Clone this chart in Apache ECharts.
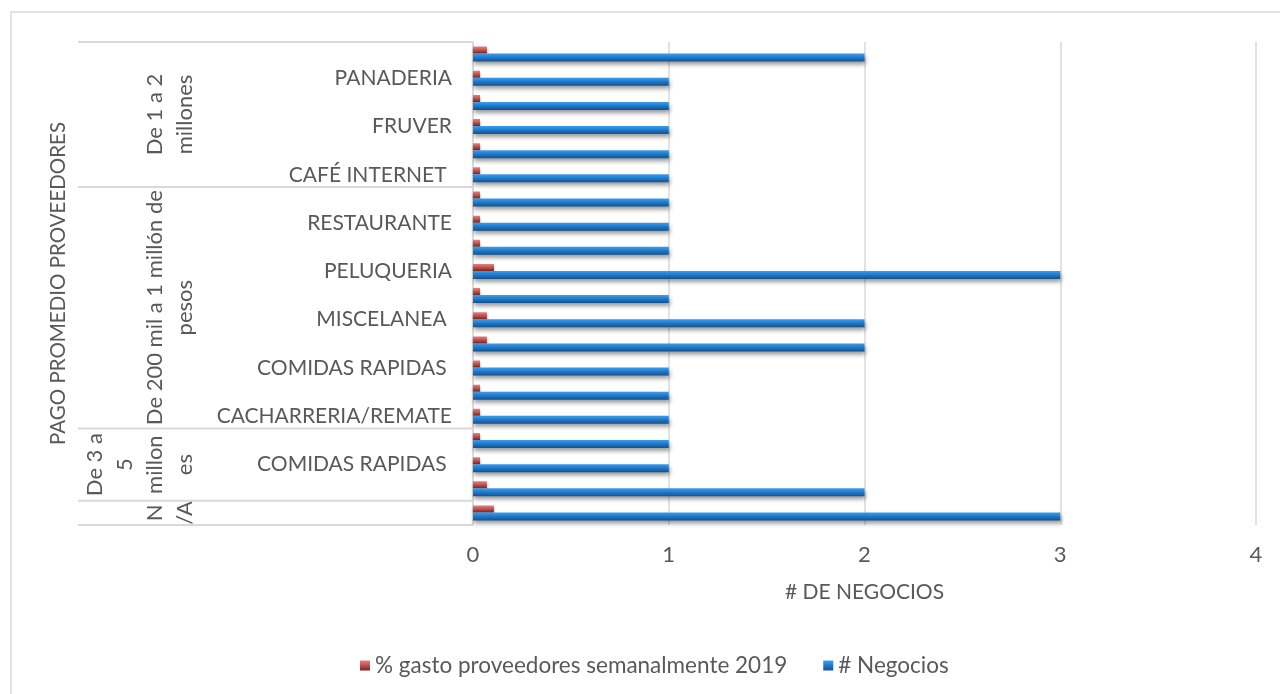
<!DOCTYPE html>
<html>
<head>
<meta charset="utf-8">
<script src="https://cdn.jsdelivr.net/npm/echarts@6/dist/echarts.min.js"></script>
<style>
  html, body { margin: 0; padding: 0; background: #fff; }
  #main { width: 1280px; height: 694px; }
</style>
</head>
<body>
<div id="main"></div>
<script>
// filas de arriba hacia abajo (Excel solo muestra una etiqueta de cada dos)
const rowLabels = ['', 'PANADERIA', '', 'FRUVER', '', 'CAFÉ INTERNET ', '', 'RESTAURANTE', '', 'PELUQUERIA',
  '', 'MISCELANEA ', '', 'COMIDAS RAPIDAS ', '', 'CACHARRERIA/REMATE', '', 'COMIDAS RAPIDAS ', '', ''];
const negocios = [2, 1, 1, 1, 1, 1, 1, 1, 1, 3, 1, 2, 2, 1, 1, 1, 1, 1, 2, 3];
const gastoProveedores = [0.071, 0.036, 0.036, 0.036, 0.036, 0.036, 0.036, 0.036, 0.036, 0.107,
  0.036, 0.071, 0.071, 0.036, 0.036, 0.036, 0.036, 0.036, 0.071, 0.107];
// segundo nivel del eje (rangos de pago) y cuantas filas abarca cada uno
const groupNames = ['De 1 a 2\nmillones', 'De 200 mil a 1 millón de\npesos', 'De 3 a\n5\nmillon\nes', 'N\n/A'];
const groupSizes = [6, 10, 3, 1];
const outerName = 'PAGO PROMEDIO PROVEEDORES';
const xTicks = [0, 1, 2, 3, 4];

const font = 'Lato';
const txt = '#595959';
const line = '#d9d9d9';

const chart = echarts.init(document.getElementById('main'));

const redFill = new echarts.graphic.LinearGradient(0, 0, 0, 1, [
  { offset: 0, color: '#e8817d' },
  { offset: 0.5, color: '#c0504d' },
  { offset: 1, color: '#7a2421' }
]);
const blueFill = new echarts.graphic.LinearGradient(0, 0, 0, 1, [
  { offset: 0, color: '#3f9ded' },
  { offset: 0.45, color: '#1f7ccf' },
  { offset: 1, color: '#14528c' }
]);

let option = {
  animation: false,
  backgroundColor: '#fff',
  textStyle: { fontFamily: font },
  grid: { left: 473, right: 24, top: 42, bottom: 169, containLabel: false, outerBoundsMode: 'none' },
  legend: {
    left: 355, top: 649,
    itemWidth: 10, itemHeight: 10, itemGap: 36,
    icon: 'rect',
    textStyle: { fontFamily: font, fontSize: 22.5, color: txt },
    data: ['% gasto proveedores semanalmente 2019', '# Negocios']
  },
  xAxis: {
    type: 'value',
    min: xTicks[0], max: xTicks[xTicks.length - 1], interval: 1,
    name: '# DE NEGOCIOS',
    nameLocation: 'middle',
    nameGap: 57,
    nameTextStyle: { fontFamily: font, fontSize: 21, color: txt },
    axisLine: { show: false },
    axisTick: { show: false },
    axisLabel: { fontFamily: font, fontSize: 22, color: txt, margin: 19 },
    splitLine: { show: true, lineStyle: { color: line, width: 1.5 } }
  },
  yAxis: {
    type: 'category',
    inverse: true,
    data: rowLabels,
    axisLine: { show: true, lineStyle: { color: line, width: 1.5 } },
    axisTick: { show: false },
    axisLabel: { interval: 0, fontFamily: font, fontSize: 21, color: txt, margin: 21 },
    splitLine: { show: false }
  },
  series: [
    {
      name: '% gasto proveedores semanalmente 2019',
      type: 'bar',
      data: gastoProveedores,
      barWidth: 7,
      barGap: '0%',
      itemStyle: { color: redFill, shadowBlur: 3, shadowColor: 'rgba(0,0,0,0.35)', shadowOffsetY: 2 }
    },
    {
      name: '# Negocios',
      type: 'bar',
      data: negocios,
      barWidth: 8,
      barGap: '0%',
      itemStyle: { color: blueFill, shadowBlur: 4, shadowColor: 'rgba(0,0,0,0.4)', shadowOffsetY: 3, shadowOffsetX: 1 }
    }
  ]
};
chart.setOption(option);

// eje de varios niveles: lineas separadoras y etiquetas giradas
const c0 = chart.convertToPixel({ yAxisIndex: 0 }, 0);
const c1 = chart.convertToPixel({ yAxisIndex: 0 }, 1);
const band = c1 - c0;
const axisX = 473;
let graphics = [{
  type: 'rect', shape: { x: 11, y: 12, width: 1400, height: 800 },
  style: { fill: null, stroke: line, lineWidth: 1.5 }, silent: true
}];
let start = 0;
let bounds = [c0 - band / 2];
for (let g = 0; g < groupSizes.length; g++) {
  const top = c0 - band / 2 + start * band;
  const bottom = top + groupSizes[g] * band;
  bounds.push(bottom);
  graphics.push({
    type: 'text', x: 200, y: (top + bottom) / 2, rotation: Math.PI / 2,
    style: { text: groupNames[g], fill: txt, font: '22px "' + font + '"', lineHeight: 30,
      align: 'center', verticalAlign: 'bottom' }
  });
  start += groupSizes[g];
}
bounds.forEach(function (y) {
  graphics.push({
    type: 'line', shape: { x1: 78, y1: y, x2: axisX, y2: y },
    style: { stroke: line, lineWidth: 2 }, silent: true
  });
});
graphics.push({
  type: 'text', x: 58, y: (bounds[0] + bounds[bounds.length - 1]) / 2, rotation: Math.PI / 2,
  style: { text: outerName, fill: txt, font: '20.5px "' + font + '"', align: 'center', verticalAlign: 'middle' }
});
chart.setOption({ graphic: graphics });
</script>
</body>
</html>
